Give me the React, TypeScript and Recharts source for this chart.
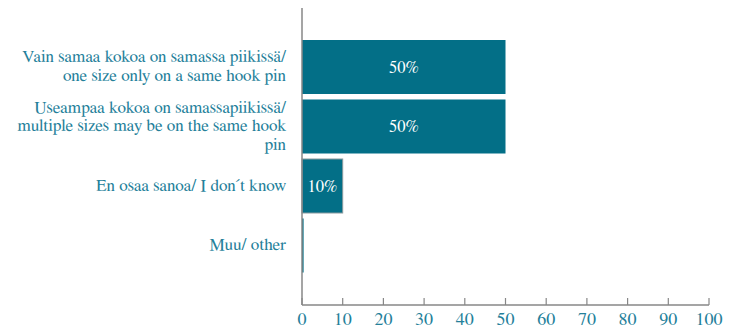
import React from "react";
import { BarChart, Bar, XAxis, YAxis, Cell, LabelList } from "recharts";

const categories = [
  "Vain samaa kokoa on samassa piikissä/\none size only on a same hook pin",
  "Useampaa kokoa on samassapiikissä/\nmultiple sizes may be on the same hook\npin",
  "En osaa sanoa/ I don´t know",
  "Muu/ other",
];
const values = [50, 50, 10, 0];
const xTicks = [0, 10, 20, 30, 40, 50, 60, 70, 80, 90, 100];

const data = categories.map((c, i) => ({ name: c, value: values[i] }));

const TEXT = "#24809A";
const BAR = "#036F87";
const AXIS = "#878787";
const FONT = "FreeSerif, Liberation Serif, serif";

const YTick = (props: any) => {
  const { x, y, payload } = props;
  const lines = String(payload.value).split("\n");
  const lh = 18.7;
  const start = -((lines.length - 1) / 2) * lh;
  return (
    <text x={x} y={y} textAnchor="end" fill={TEXT} style={{ fontFamily: FONT, fontSize: 17.2 }}>
      {lines.map((l, i) => (
        <tspan key={i} x={x} y={y + start + i * lh + 5}>
          {l}
        </tspan>
      ))}
    </text>
  );
};

const XTick = (props: any) => {
  const { x, y, payload } = props;
  return (
    <g>
      <line x1={x} y1={y} x2={x} y2={y - 7} stroke={AXIS} strokeWidth={1.2} />
      <text x={x} y={y + 20} textAnchor="middle" fill={TEXT} style={{ fontFamily: FONT, fontSize: 18 }}>
        {payload.value}
      </text>
    </g>
  );
};

const BarShape = (props: any) => {
  const { x, y, width, height, index } = props;
  const w = Math.max(width, 1.6);
  return (
    <rect
      x={x}
      y={y}
      width={w}
      height={height}
      fill={BAR}
      stroke={index === 2 ? "#8a9a9e" : "none"}
      strokeWidth={1}
    />
  );
};

const ValueLabel = (props: any) => {
  const { x, y, width, height, value } = props;
  if (!(value > 0)) return null;
  return (
    <text
      x={x + width / 2}
      y={y + height / 2 + 5.5}
      textAnchor="middle"
      fill="#ffffff"
      style={{ fontFamily: FONT, fontSize: 16.5 }}
    >
      {`${value}%`}
    </text>
  );
};

export default function App() {
  return (
    <div style={{ position: "absolute", left: 0, top: 0, width: 737, height: 328, background: "#fff", fontFamily: FONT }}>
      <BarChart
        width={737}
        height={328}
        data={data}
        layout="vertical"
        margin={{ top: 8, right: 28, bottom: 0, left: 0 }}
        style={{ fontFamily: FONT }}
      >
        <XAxis
          type="number"
          domain={[0, 100]}
          ticks={xTicks}
          interval={0}
          height={23}
          tickSize={0}
          tickMargin={0}
          axisLine={{ stroke: AXIS, strokeWidth: 1.5 }}
          tickLine={false}
          tick={<XTick />}
        />
        <YAxis
          type="category"
          dataKey="name"
          width={302}
          padding={{ top: 29, bottom: 30 }}
          tickSize={0}
          tickMargin={16}
          axisLine={{ stroke: AXIS, strokeWidth: 1.5 }}
          tickLine={false}
          interval={0}
          tick={<YTick />}
        />
        <Bar dataKey="value" barSize={54} isAnimationActive={false} shape={<BarShape />}>
          {data.map((d, i) => (
            <Cell key={i} fill={BAR} />
          ))}
          <LabelList dataKey="value" content={<ValueLabel />} />
        </Bar>
      </BarChart>
    </div>
  );
}
